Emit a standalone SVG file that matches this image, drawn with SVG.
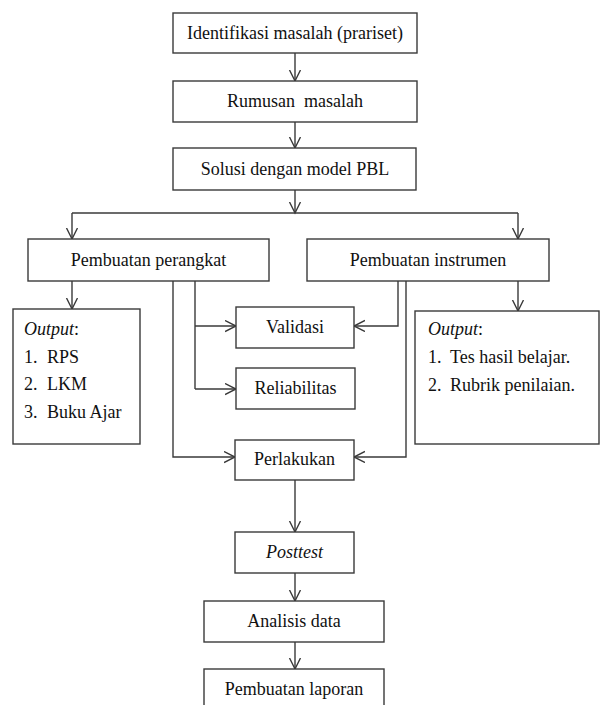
<svg xmlns="http://www.w3.org/2000/svg" width="601" height="705" viewBox="0 0 601 705" font-family="Liberation Serif, Times New Roman, DejaVu Serif, Noto Serif, serif">
<style>
.b{fill:#fff;stroke:#3a3a3a;stroke-width:1.4}
.t{font-size:18px;fill:#111;text-anchor:middle}
.l{font-size:18px;fill:#111}
.c{fill:none;stroke:#3a3a3a;stroke-width:1.4}
</style>
<defs>
<marker id="a" markerWidth="14" markerHeight="14" refX="11" refY="6" orient="auto" markerUnits="userSpaceOnUse">
<path d="M0,0.5 L11,6 L0,11.5" fill="none" stroke="#3a3a3a" stroke-width="1.4"/>
</marker>
</defs>
<rect width="601" height="705" fill="#fff"/>
<g id="connectors">
<path class="c" d="M295,53 V81" marker-end="url(#a)"/>
<path class="c" d="M295,122 V148" marker-end="url(#a)"/>
<path class="c" d="M295,190 V213" marker-end="url(#a)"/>
<path class="c" d="M72,213 H518"/>
<path class="c" d="M72,213 V239" marker-end="url(#a)"/>
<path class="c" d="M518,213 V239" marker-end="url(#a)"/>
<path class="c" d="M72,281 V309" marker-end="url(#a)"/>
<path class="c" d="M518,281 V311" marker-end="url(#a)"/>
<path class="c" d="M195,281 V389"/>
<path class="c" d="M195,326 H236" marker-end="url(#a)"/>
<path class="c" d="M195,389 H236" marker-end="url(#a)"/>
<path class="c" d="M173,281 V457 H235" marker-end="url(#a)"/>
<path class="c" d="M398,281 V326 H354" marker-end="url(#a)"/>
<path class="c" d="M406,281 V457 H354" marker-end="url(#a)"/>
<path class="c" d="M295,480 V532" marker-end="url(#a)"/>
<path class="c" d="M295,573 V601" marker-end="url(#a)"/>
<path class="c" d="M295,642 V669" marker-end="url(#a)"/>
</g>
<g id="n1"><rect class="b" x="173" y="13" width="244" height="40"/><text class="t" x="295" y="39" font-family="Liberation Serif">Identifikasi masalah (prariset)</text></g>
<g id="n2"><rect class="b" x="173" y="81" width="244" height="41"/><text class="t" x="295" y="107" xml:space="preserve">Rumusan  masalah</text></g>
<g id="n3"><rect class="b" x="173" y="148" width="243" height="42"/><text class="t" x="295" y="175">Solusi dengan model PBL</text></g>
<g id="n4"><rect class="b" x="28" y="239" width="241" height="42"/><text class="t" x="148.5" y="266">Pembuatan perangkat</text></g>
<g id="n5"><rect class="b" x="307" y="239" width="242" height="42"/><text class="t" x="428" y="266">Pembuatan instrumen</text></g>
<g id="n6"><rect class="b" x="13" y="309" width="127" height="135"/>
<text class="l" x="24" y="335" font-style="italic">Output<tspan font-style="normal">:</tspan></text>
<text class="l" x="24" y="363">1.</text><text class="l" x="47" y="363">RPS</text>
<text class="l" x="24" y="390">2.</text><text class="l" x="47" y="390">LKM</text>
<text class="l" x="24" y="418">3.</text><text class="l" x="47" y="418">Buku Ajar</text></g>
<g id="n7"><rect class="b" x="236" y="307" width="118" height="41"/><text class="t" x="295" y="333">Validasi</text></g>
<g id="n8"><rect class="b" x="236" y="368" width="119" height="41"/><text class="t" x="295.5" y="394">Reliabilitas</text></g>
<g id="n9"><rect class="b" x="415" y="311" width="184" height="133"/>
<text class="l" x="428" y="335" font-style="italic">Output<tspan font-style="normal">:</tspan></text>
<text class="l" x="428" y="363">1.</text><text class="l" x="450" y="363">Tes hasil belajar.</text>
<text class="l" x="428" y="391">2.</text><text class="l" x="450" y="391">Rubrik penilaian.</text></g>
<g id="n10"><rect class="b" x="235" y="440" width="119" height="40"/><text class="t" x="294.5" y="465">Perlakukan</text></g>
<g id="n11"><rect class="b" x="235" y="532" width="119" height="41"/><text class="t" x="294.5" y="558" font-style="italic">Posttest</text></g>
<g id="n12"><rect class="b" x="204" y="601" width="180" height="41"/><text class="t" x="294" y="627">Analisis data</text></g>
<g id="n13"><rect class="b" x="204" y="669" width="180" height="42"/><text class="t" x="294" y="695">Pembuatan laporan</text></g>
</svg>
